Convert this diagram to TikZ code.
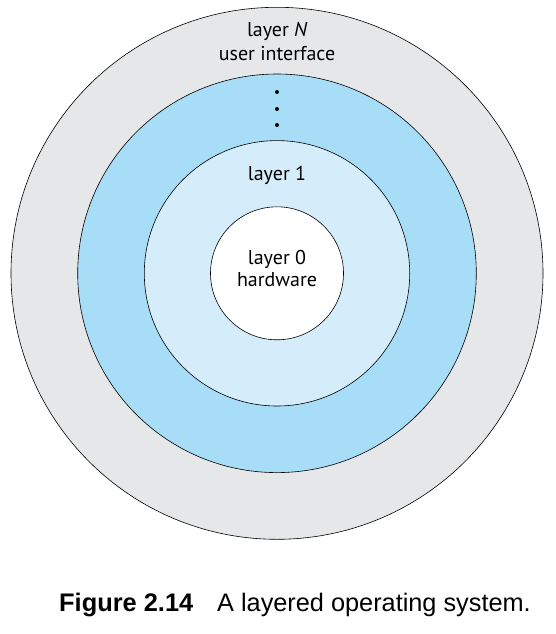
\documentclass[tikz,border=0pt]{standalone}
\usepackage{fontspec}
\usepackage{xcolor}
\usepackage{tikz}
\usetikzlibrary{positioning}
\newfontfamily\labelfont{PT Sans}
\newfontfamily\capfont{Liberation Sans}
\definecolor{ringgray}{HTML}{E6E7E8}
\definecolor{ringblue}{HTML}{A8DDF8}
\definecolor{ringpale}{HTML}{D5EDFA}
\tikzset{
  ring/.style={draw, circle, line width=0.6pt, inner sep=0pt},
  lbl/.style={font=\labelfont\fontsize{20}{23}\selectfont, align=center, anchor=base, inner sep=0pt},
  captext/.style={font=\capfont\fontsize{25.3}{28}\selectfont, anchor=base west, inner sep=0pt}
}
\begin{document}
\begin{tikzpicture}[x=1pt, y=-1pt]
\useasboundingbox (0,0) rectangle (555,634);
\node[ring, fill=ringgray, minimum size=532pt] (ring_N) at (277,273.3) {};
\node[ring, fill=ringblue, minimum size=398.6pt] (ring_mid) at (ring_N.center) {};
\node[ring, fill=ringpale, minimum size=265.4pt] (ring_1) at (ring_N.center) {};
\node[ring, fill=white, minimum size=133pt] (ring_0) at (ring_N.center) {};
\node[lbl] (layer_N) at (277,36.7) {layer {\itshape N}};
\node[lbl] (ui) at (277,60) {user interface};
\foreach \y in {92,109,125}
  \fill (277,\y) circle (2pt);
\node[lbl] (layer_1) at (277,180) {layer 1};
\node[lbl] (layer_0) at (277,264.3) {layer 0};
\node[lbl] (hw) at (277,286.7) {hardware};
\node[captext, font=\capfont\bfseries\fontsize{25.4}{28}\selectfont] (fig_no) at (59,611.7) {Figure 2.14};
\node[captext] (fig_txt) at (217,611.7) {A layered operating system.};
\end{tikzpicture}
\end{document}
